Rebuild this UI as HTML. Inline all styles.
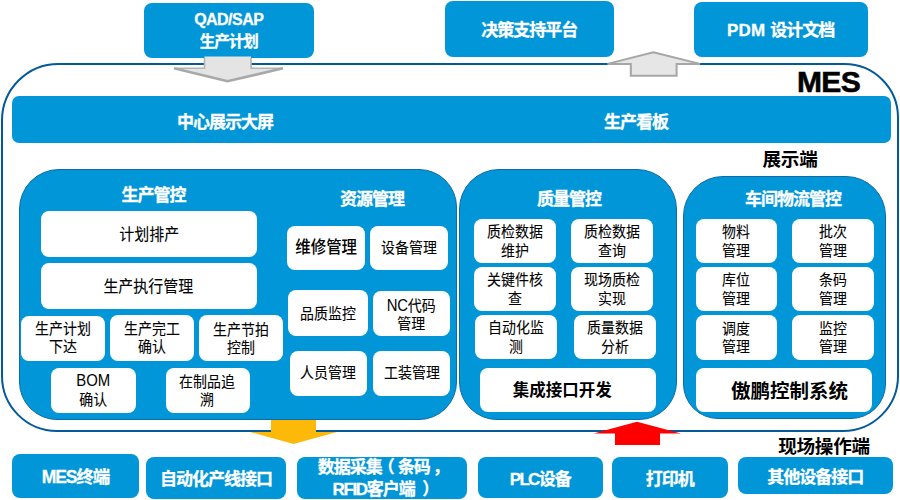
<!DOCTYPE html>
<html lang="zh-CN"><head><meta charset="utf-8"><title>MES</title>
<style>
html,body{margin:0;padding:0;background:#fff;}
body{width:900px;height:500px;position:relative;overflow:hidden;font-family:"Liberation Sans","Noto Sans CJK SC",sans-serif;}
div{position:absolute;box-sizing:border-box;}
.b,.w,.p{display:flex;align-items:center;justify-content:center;text-align:center;}
.b{background:#0096d7;color:#fff;font-weight:bold;font-size:17px;letter-spacing:-1px;line-height:21px;border-radius:8px;-webkit-text-stroke:0.3px #fff;}
.p{background:#0096d7;border:1px solid #0f6aa8;border-radius:39px;}
.w{background:#fff;color:#000;font-size:15px;line-height:18.5px;border-radius:8px;-webkit-text-stroke:0.1px #000;}
.w>span{display:block;transform:scaleX(0.93);white-space:nowrap;}
.w.k>span{transform:none;}
.w.k{font-weight:bold;}
.t{color:#fff;font-weight:bold;font-size:17px;letter-spacing:-1px;line-height:20px;white-space:nowrap;transform:translate(-50%,-50%);-webkit-text-stroke:0.3px #fff;}
.l{color:#000;font-weight:bold;white-space:nowrap;transform:translate(-50%,-50%);}
.frame{left:1px;top:62.5px;width:897.5px;height:369.5px;border:2.8px solid #045a98;border-radius:57.5px 54.5px 56px 56px;}
svg{position:absolute;left:0;top:0;}
</style></head><body>
<div class="frame"></div>
<div class="b" style="left:144px;top:3px;width:169.5px;height:54.6px;font-size:15px;line-height:22px;"><span style="position:relative;top:0.4px;left:0px"><span style="font-size:16px;letter-spacing:-0.55px">QAD/SAP</span><br><span style="font-size:15.5px;letter-spacing:-1px">生产计划</span></span></div>
<div class="b" style="left:445px;top:1px;width:168.6px;height:56px;"><span style="position:relative;top:1.2px;left:0px">决策支持平台</span></div>
<div class="b" style="left:693.6px;top:1.6px;width:174.0px;height:55.8px;"><span style="position:relative;top:1.2px;left:0px"><span style="letter-spacing:0.3px">PDM</span><span style="letter-spacing:0"> </span>设计文档</span></div>
<div class="b" style="left:12.3px;top:95.7px;width:878.9px;height:47.7px;border-radius:7px;"><span></span></div>
<div class="t" style="left:225px;top:123px;">中心展示大屏</div>
<div class="t" style="left:636px;top:123px;">生产看板</div>
<div class="l" style="left:828.5px;top:82.3px;font-size:30px;-webkit-text-stroke:0.6px #000;letter-spacing:-0.6px;">MES</div>
<div class="l" style="left:790px;top:157.3px;font-size:18.6px;letter-spacing:-0.3px;">展示端</div>
<div class="l" style="left:824px;top:444.3px;font-size:18.6px;letter-spacing:-0.3px;">现场操作端</div>
<div class="p" style="left:18.5px;top:169px;width:438.0px;height:251.2px;border-radius:40px 38px 38px 38px;"><span></span></div>
<div class="p" style="left:458.5px;top:169px;width:218.0px;height:250.5px;border-radius:40px 40px 38px 38px;"><span></span></div>
<div class="p" style="left:682.5px;top:176.3px;width:203.5px;height:242.5px;border-radius:40px 40px 35px 35px;"><span></span></div>
<div class="t" style="left:153.5px;top:196px;">生产管控</div>
<div class="t" style="left:372px;top:199.7px;">资源管理</div>
<div class="t" style="left:569px;top:200.3px;">质量管控</div>
<div class="t" style="left:793px;top:199.5px;">车间物流管控</div>
<div class="w" style="left:41px;top:211px;width:215.5px;height:45.5px;font-size:16.1px;"><span>计划排产</span></div>
<div class="w" style="left:41px;top:263px;width:215.5px;height:45.5px;font-size:16.1px;"><span>生产执行管理</span></div>
<div class="w" style="left:21px;top:315.5px;width:84px;height:45.8px;"><span>生产计划<br>下达</span></div>
<div class="w" style="left:110.3px;top:315.3px;width:83.7px;height:46.0px;"><span>生产完工<br>确认</span></div>
<div class="w" style="left:199px;top:315.3px;width:84px;height:46.0px;"><span style="position:relative;top:0.8px;left:0px">生产节拍<br>控制</span></div>
<div class="w" style="left:51px;top:367.6px;width:84.5px;height:45.4px;"><span style="position:relative;top:0.3px;left:0px"><span style="font-size:16px;-webkit-text-stroke:0">BOM</span><br>确认</span></div>
<div class="w" style="left:165.5px;top:367.6px;width:84.0px;height:45.4px;"><span style="position:relative;top:1px;left:0px">在制品追<br>溯</span></div>
<div class="w" style="left:287px;top:226px;width:77.5px;height:44px;font-size:16.6px;font-weight:500;-webkit-text-stroke:0;"><span>维修管理</span></div>
<div class="w" style="left:370px;top:226px;width:77.6px;height:44px;"><span>设备管理</span></div>
<div class="w" style="left:288.2px;top:290px;width:79.8px;height:45.6px;"><span style="position:relative;top:1.3px;left:0px">品质监控</span></div>
<div class="w" style="left:372.5px;top:291px;width:77.5px;height:45.4px;line-height:18px;"><span style="position:relative;top:0.9px;left:0px"><span style="font-size:16px;letter-spacing:-0.3px;-webkit-text-stroke:0">NC</span>代码<br>管理</span></div>
<div class="w" style="left:289.6px;top:351px;width:77.8px;height:44.6px;"><span>人员管理</span></div>
<div class="w" style="left:372.7px;top:351px;width:77.7px;height:44.6px;"><span>工装管理</span></div>
<div class="w" style="left:474px;top:219px;width:82px;height:44px;"><span style="position:relative;top:0.6px;left:0px">质检数据<br>维护</span></div>
<div class="w" style="left:571px;top:219px;width:82px;height:44px;"><span style="position:relative;top:0.6px;left:0px">质检数据<br>查询</span></div>
<div class="w" style="left:474px;top:267px;width:82px;height:44px;"><span style="position:relative;top:0.6px;left:0px">关键件核<br>查</span></div>
<div class="w" style="left:571px;top:267px;width:82px;height:44px;"><span style="position:relative;top:0.6px;left:0px">现场质检<br>实现</span></div>
<div class="w" style="left:475px;top:315px;width:82.2px;height:44px;"><span style="position:relative;top:0.6px;left:0px">自动化监<br>测</span></div>
<div class="w" style="left:574px;top:315px;width:81.7px;height:44px;"><span style="position:relative;top:0.6px;left:0px">质量数据<br>分析</span></div>
<div class="w k" style="left:480px;top:367.5px;width:175.7px;height:44.5px;font-size:16.5px;font-weight:700;-webkit-text-stroke:0;"><span style="position:relative;top:0px;left:-5.5px">集成接口开发</span></div>
<div class="w" style="left:695.5px;top:219px;width:81.5px;height:44px;"><span style="position:relative;top:0.6px;left:0px">物料<br>管理</span></div>
<div class="w" style="left:792px;top:219px;width:82px;height:44px;"><span style="position:relative;top:0.6px;left:0px">批次<br>管理</span></div>
<div class="w" style="left:695.5px;top:267px;width:81.5px;height:44px;"><span style="position:relative;top:0.6px;left:0px">库位<br>管理</span></div>
<div class="w" style="left:792px;top:267px;width:82px;height:44px;"><span style="position:relative;top:0.6px;left:0px">条码<br>管理</span></div>
<div class="w" style="left:695.5px;top:315px;width:81.5px;height:45px;"><span style="position:relative;top:0.6px;left:0px">调度<br>管理</span></div>
<div class="w" style="left:792px;top:315px;width:82px;height:45px;"><span style="position:relative;top:0.6px;left:0px">监控<br>管理</span></div>
<div class="w k" style="left:695.7px;top:368.4px;width:176.8px;height:44.1px;font-size:19.5px;font-weight:700;-webkit-text-stroke:0;"><span style="position:relative;top:0.8px;left:5.5px">傲鹏控制系统</span></div>
<div class="b" style="left:12px;top:454px;width:127px;height:43.6px;font-size:17.5px;"><span style="position:relative;top:1.6px;left:0px"><span style="letter-spacing:-1.1px">MES</span>终端</span></div>
<div class="b" style="left:146px;top:457px;width:140px;height:42.3px;font-size:17px;"><span style="position:relative;top:1.3px;left:0px">自动化产线接口</span></div>
<div class="b" style="left:297.3px;top:457px;width:169.7px;height:42.3px;font-size:17px;line-height:22.5px;"><span style="position:relative;top:1.2px;left:-0.5px">数据采集<span style="position:relative;left:-4px">（</span>条码<span style="position:relative;left:3px">，</span><br><span style="letter-spacing:-1.4px">RFID</span>客户端<span style="position:relative;left:7.5px">）</span></span></div>
<div class="b" style="left:478px;top:457px;width:124.5px;height:41px;font-size:17px;"><span style="position:relative;top:2.3px;left:0px"><span style="letter-spacing:-1.7px">PLC</span>设备</span></div>
<div class="b" style="left:612px;top:457px;width:115.5px;height:41px;font-size:17px;"><span style="position:relative;top:1.6px;left:0px">打印机</span></div>
<div class="b" style="left:738px;top:456.7px;width:154.7px;height:37.6px;font-size:17px;"><span style="position:relative;top:2.4px;left:0px">其他设备接口</span></div>
<svg width="900" height="500" viewBox="0 0 900 500">
<polygon points="204.5,56.5 251,56.5 251,68.3 283,68.3 227.5,81.7 174,68.3 204.5,68.3" fill="#e4e4e4"/>
<polyline points="204.5,58 204.5,68.3 176,68.3" fill="none" stroke="#b4b4b4" stroke-width="1.6"/>
<polyline points="251,58 251,68.3 281,68.3" fill="none" stroke="#b4b4b4" stroke-width="1.6"/>
<polyline points="174,68.3 227.5,81.2 283,68.3" fill="none" stroke="#a8a8a8" stroke-width="2.6" stroke-linejoin="miter"/>
<polygon points="653.3,52.3 700,63.9 676.6,63.9 676.6,75.8 630.8,75.8 630.8,63.9 607.5,63.9" fill="#e6e6e6" stroke="#a6a6a6" stroke-width="2" stroke-linejoin="miter"/>
<polygon points="271,420 316,420 316,432 337,432 293.5,444 250,432 271,432" fill="#fdb90a"/>
<polygon points="637,421.7 681,433.4 660,433.4 660,445 615,445 615,433.4 593.5,433.4" fill="#fe0000"/>
</svg>
</body></html>
